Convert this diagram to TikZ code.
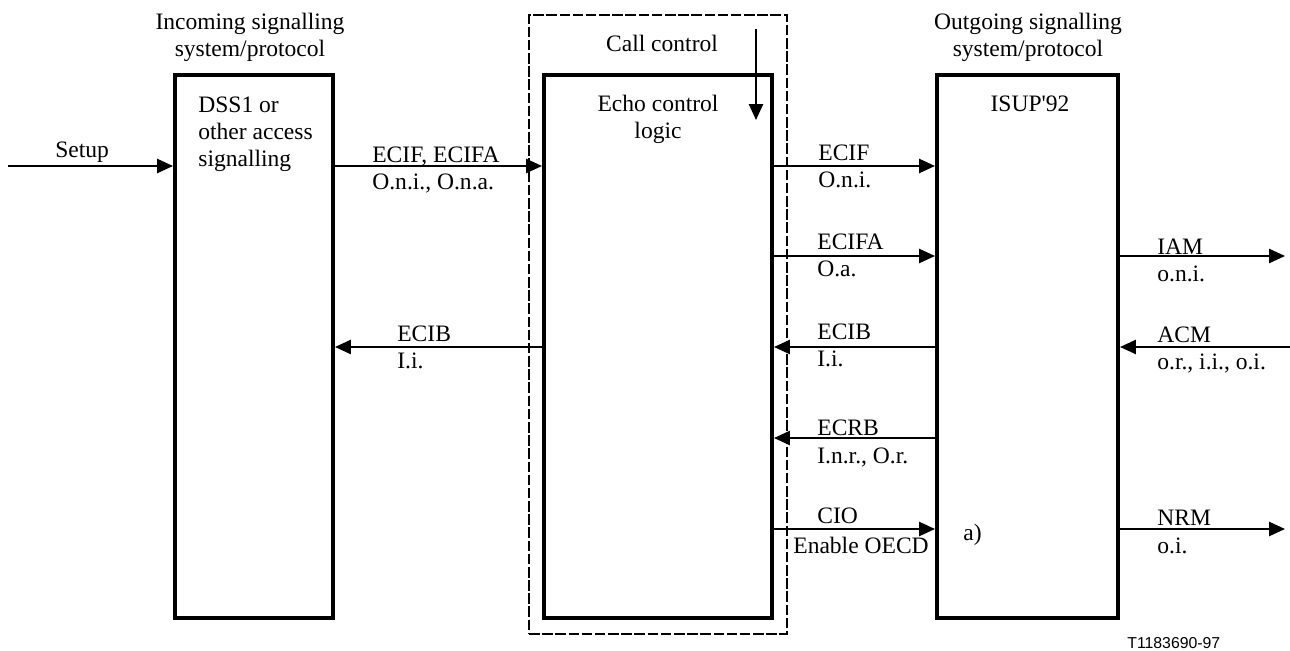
\documentclass[tikz,border=0pt]{standalone}
\usepackage{fontspec}
\setmainfont{Liberation Serif}
\newfontfamily\tagfont{Liberation Sans}
\usetikzlibrary{arrows.meta,positioning}

\begin{document}
\begin{tikzpicture}[
  x=0.02cm, y=-0.02cm,
  font=\fontsize{13.4}{15.65}\selectfont,
  blk/.style={draw, line width=2.3pt, inner sep=0pt, minimum height=10.86cm},
  frame/.style={draw, line width=0.7pt, dash pattern=on 6pt off 1.5pt, inner sep=0pt},
  ar/.style={-{Triangle[length=9pt,width=8pt]}, line width=1.1pt},
  lbl/.style={anchor=base west, inner sep=0pt, align=left},
  hd/.style={anchor=base, inner sep=0pt, align=center}
]
\useasboundingbox (0,0) rectangle (1290,651);
% boxes
\node[frame, minimum width=5.16cm, minimum height=12.38cm] (cc) at (658,324.5) {};
\node[blk, minimum width=3.16cm] (inc) at (254,346.5) {};
\node[blk, minimum width=4.56cm] (echo) at (658,346.5) {};
\node[blk, minimum width=3.62cm] (isup) at (1027.5,346.5) {};

% box texts (multi-line nodes sit on their last line)
\node[hd] (inhd) at (250,57) {Incoming signalling\\system/protocol};
\node[hd] (outhd) at (1028,57) {Outgoing signalling\\system/protocol};
\node[hd] (cclbl) at (662,52) {Call control};
\node[lbl] (dss) at (198,167) {DSS1 or\\other access\\signalling};
\node[hd] (echolbl) at (658,139) {Echo control\\logic};
\node[hd] (isuplbl) at (1030,112) {ISUP\textquotesingle 92};

% rows
\coordinate (r1) at (0,166);
\coordinate (r2) at (0,256);
\coordinate (r3) at (0,347);
\coordinate (r4) at (0,438);
\coordinate (r5) at (0,529);
\coordinate (src) at (8,166);
\coordinate (out2) at (1285,256);
\coordinate (in3) at (1290,347);
\coordinate (out5) at (1285,529);
\coordinate (cctop) at (756,29);
\coordinate (ccend) at (756,120);

\draw[ar] (src) -- (inc.west |- src);
\draw[ar] (inc.east |- r1) -- (echo.west |- r1);
\draw[ar] (echo.west |- r3) -- (inc.east |- r3);
\draw[ar] (echo.east |- r1) -- (isup.west |- r1);
\draw[ar] (echo.east |- r2) -- (isup.west |- r2);
\draw[ar] (isup.west |- r3) -- (echo.east |- r3);
\draw[ar] (isup.west |- r4) -- (echo.east |- r4);
\draw[ar] (echo.east |- r5) -- (isup.west |- r5);
\draw[ar] (isup.east |- out2) -- (out2);
\draw[ar] (in3) -- (isup.east |- in3);
\draw[ar] (isup.east |- out5) -- (out5);
\draw[ar] (cctop) -- (ccend);

% labels
\node[lbl] (setuplbl) at (55,158) {Setup};
\node[lbl] (fwdlbl) at (372,190) {ECIF, ECIFA\\O.n.i., O.n.a.};
\node[lbl] (bwdlbl) at (397,369) {ECIB\\I.i.};
\node[lbl] (ecif) at (818,188) {ECIF\\O.n.i.};
\node[lbl] (ecifa) at (817,277) {ECIFA\\O.a.};
\node[lbl] (ecib) at (817,367) {ECIB\\I.i.};
\node[lbl] (ecrb) at (817,463) {ECRB\\I.n.r., O.r.};
\node[lbl] (cio) at (817,523) {CIO};
\node[lbl] (oecd) at (793,553) {Enable OECD};
\node[lbl] (anote) at (963,540) {a)};
\node[lbl] (iam) at (1157,282) {IAM\\o.n.i.};
\node[lbl] (acm) at (1157,370) {ACM\\o.r., i.i., o.i.};
\node[lbl] (nrm) at (1157,553) {NRM\\o.i.};
\node[lbl, font=\tagfont\fontsize{9}{11}\selectfont] (figid) at (1127,648) {T1183690-97};
\end{tikzpicture}
\end{document}
